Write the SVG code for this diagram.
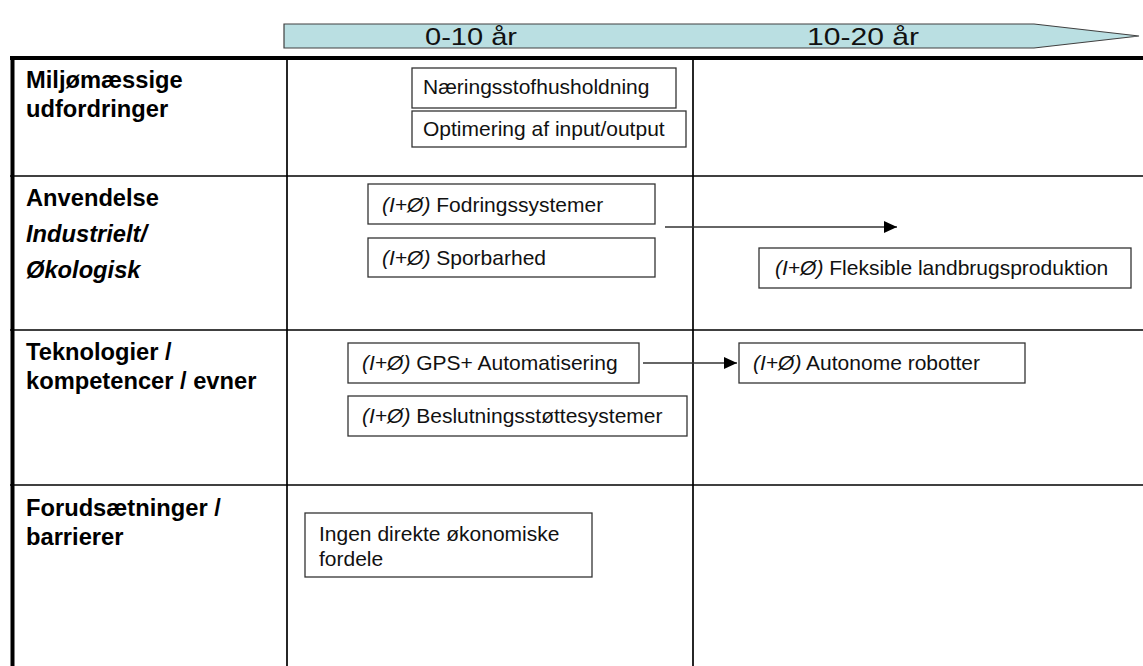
<svg xmlns="http://www.w3.org/2000/svg" width="1143" height="666" viewBox="0 0 1143 666">
<defs>
<marker id="arr" markerUnits="userSpaceOnUse" markerWidth="13" markerHeight="12" refX="13" refY="6" orient="auto">
<path d="M0,0 L13,6 L0,12 z" fill="#000"/>
</marker>
<style>
.lbl{font-family:"Liberation Sans",Arial,sans-serif;font-weight:bold;font-size:23.7px;fill:#000}
.lbli{font-family:"Liberation Sans",Arial,sans-serif;font-weight:bold;font-style:italic;font-size:23.7px;fill:#000}
.box{fill:#fff;stroke:#333;stroke-width:1.3}
.bt{font-family:"Liberation Sans",Arial,sans-serif;font-size:21px;fill:#111}
.it{font-style:italic}
.grid{stroke:#000;stroke-width:1.7;fill:none}
.conn{stroke:#333;stroke-width:1.3;fill:none}
.ban{font-family:"Liberation Sans",Arial,sans-serif;font-size:24px;fill:#111}
</style>
</defs>
<rect width="1143" height="666" fill="#fff"/>

<g id="timeline">
<polygon points="284,24 1034,24 1139,36 1034,48 284,48" fill="#BADFE2" stroke="#404040" stroke-width="1.2"/>
<text class="ban" x="425" y="45" textLength="92" lengthAdjust="spacingAndGlyphs">0-10 år</text>
<text class="ban" x="807" y="45" textLength="112" lengthAdjust="spacingAndGlyphs">10-20 år</text>
</g>

<g id="grid">
<line class="grid" x1="287" y1="58" x2="287" y2="666"/>
<line class="grid" x1="693" y1="58" x2="693" y2="666" stroke-width="2"/>
<line class="grid" x1="10" y1="176" x2="1143" y2="176"/>
<line class="grid" x1="10" y1="330" x2="1143" y2="330"/>
<line class="grid" x1="10" y1="485" x2="1143" y2="485"/>
<line x1="10" y1="58" x2="1143" y2="58" stroke="#000" stroke-width="4"/>
<line x1="12.5" y1="56" x2="12.5" y2="666" stroke="#000" stroke-width="4"/>
</g>

<g id="row-labels">
<text class="lbl" x="26" y="88">Miljømæssige</text>
<text class="lbl" x="26" y="117">udfordringer</text>
<text class="lbl" x="26" y="206">Anvendelse</text>
<text class="lbli" x="26" y="242">Industrielt/</text>
<text class="lbli" x="26" y="278">Økologisk</text>
<text class="lbl" x="26" y="360">Teknologier /</text>
<text class="lbl" x="26" y="389">kompetencer / evner</text>
<text class="lbl" x="26" y="516">Forudsætninger /</text>
<text class="lbl" x="26" y="545">barrierer</text>
</g>

<g id="connectors">
<line class="conn" x1="665" y1="227" x2="897" y2="227" marker-end="url(#arr)"/>
<line class="conn" x1="643" y1="363" x2="737" y2="363" marker-end="url(#arr)"/>
</g>

<g id="n-naering">
<rect class="box" x="412" y="68" width="264" height="40"/>
<text class="bt" x="423" y="94">Næringsstofhusholdning</text>
</g>
<g id="n-optimering">
<rect class="box" x="412" y="111" width="274" height="36"/>
<text class="bt" x="423" y="136">Optimering af input/output</text>
</g>
<g id="n-fodring">
<rect class="box" x="368" y="184" width="287" height="40"/>
<text class="bt" x="382" y="212"><tspan class="it">(I+Ø)</tspan> Fodringssystemer</text>
</g>
<g id="n-sporbarhed">
<rect class="box" x="368" y="238" width="287" height="39"/>
<text class="bt" x="382" y="265"><tspan class="it">(I+Ø)</tspan> Sporbarhed</text>
</g>
<g id="n-fleksible">
<rect class="box" x="759" y="248" width="372" height="40"/>
<text class="bt" x="775" y="275"><tspan class="it">(I+Ø)</tspan> Fleksible landbrugsproduktion</text>
</g>
<g id="n-gps">
<rect class="box" x="348" y="343" width="291" height="40"/>
<text class="bt" x="362" y="370"><tspan class="it">(I+Ø)</tspan> GPS+ Automatisering</text>
</g>
<g id="n-beslutning">
<rect class="box" x="348" y="396" width="339" height="40"/>
<text class="bt" x="362" y="423"><tspan class="it">(I+Ø)</tspan> Beslutningsstøttesystemer</text>
</g>
<g id="n-autonome">
<rect class="box" x="739" y="343" width="286" height="40"/>
<text class="bt" x="753" y="370"><tspan class="it">(I+Ø)</tspan> Autonome robotter</text>
</g>
<g id="n-ingen">
<rect class="box" x="305" y="513" width="287" height="64"/>
<text class="bt" x="319" y="541">Ingen direkte økonomiske</text>
<text class="bt" x="319" y="566">fordele</text>
</g>
</svg>
